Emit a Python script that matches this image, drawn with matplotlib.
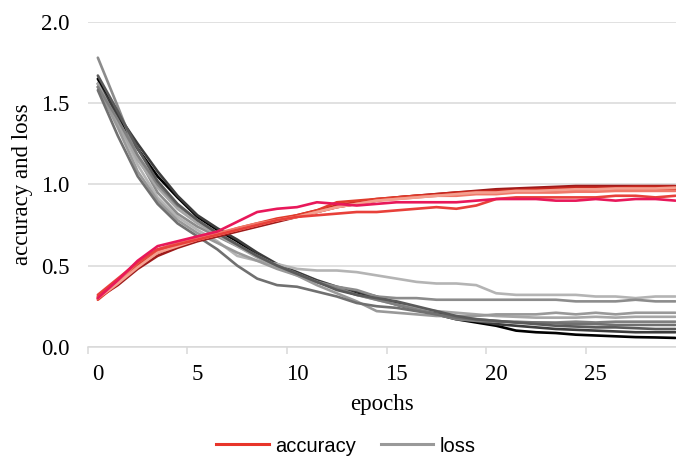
import matplotlib.pyplot as plt
import numpy as np
from matplotlib.lines import Line2D

epochs = np.arange(30)

# accuracy runs
acc_1 = [0.30, 0.38, 0.48, 0.56, 0.61, 0.65, 0.68, 0.71, 0.74, 0.77, 0.80, 0.83, 0.86, 0.88, 0.90,
         0.92, 0.93, 0.94, 0.95, 0.96, 0.97, 0.975, 0.98, 0.985, 0.99, 0.99, 0.99, 0.99, 0.99, 0.99]
acc_2 = [0.31, 0.40, 0.50, 0.58, 0.62, 0.66, 0.69, 0.72, 0.75, 0.78, 0.81, 0.84, 0.87, 0.89, 0.91,
         0.92, 0.93, 0.94, 0.95, 0.955, 0.96, 0.965, 0.97, 0.975, 0.98, 0.98, 0.98, 0.985, 0.985, 0.985]
acc_3 = [0.29, 0.39, 0.51, 0.59, 0.63, 0.66, 0.69, 0.73, 0.76, 0.79, 0.81, 0.84, 0.89, 0.90, 0.91,
         0.92, 0.93, 0.93, 0.94, 0.95, 0.95, 0.96, 0.96, 0.96, 0.965, 0.97, 0.97, 0.97, 0.97, 0.97]
acc_4 = [0.30, 0.40, 0.52, 0.60, 0.64, 0.67, 0.70, 0.73, 0.76, 0.78, 0.80, 0.83, 0.86, 0.88, 0.90,
         0.91, 0.92, 0.93, 0.93, 0.94, 0.94, 0.95, 0.95, 0.95, 0.955, 0.955, 0.96, 0.96, 0.96, 0.96]
acc_5 = [0.32, 0.42, 0.52, 0.60, 0.63, 0.66, 0.69, 0.72, 0.75, 0.78, 0.80, 0.81, 0.82, 0.83, 0.83,
         0.84, 0.85, 0.86, 0.85, 0.87, 0.91, 0.92, 0.92, 0.92, 0.92, 0.92, 0.93, 0.93, 0.92, 0.93]
acc_6 = [0.30, 0.41, 0.53, 0.62, 0.65, 0.68, 0.71, 0.77, 0.83, 0.85, 0.86, 0.89, 0.88, 0.87, 0.88,
         0.89, 0.89, 0.89, 0.89, 0.90, 0.91, 0.91, 0.91, 0.90, 0.90, 0.91, 0.90, 0.91, 0.91, 0.90]
acc_7 = [0.30, 0.39, 0.49, 0.58, 0.62, 0.66, 0.69, 0.72, 0.75, 0.78, 0.80, 0.83, 0.86, 0.88, 0.90,
         0.91, 0.92, 0.93, 0.94, 0.95, 0.95, 0.96, 0.96, 0.965, 0.97, 0.97, 0.975, 0.975, 0.975, 0.98]

# loss runs
loss_1 = [1.65, 1.42, 1.22, 1.05, 0.92, 0.80, 0.72, 0.65, 0.57, 0.50, 0.45, 0.40, 0.36, 0.33, 0.30,
          0.26, 0.23, 0.20, 0.17, 0.15, 0.13, 0.10, 0.09, 0.085, 0.075, 0.07, 0.065, 0.06, 0.058, 0.055]
loss_2 = [1.62, 1.43, 1.25, 1.08, 0.93, 0.81, 0.73, 0.66, 0.58, 0.51, 0.46, 0.41, 0.37, 0.34, 0.31,
          0.27, 0.24, 0.21, 0.18, 0.16, 0.14, 0.13, 0.12, 0.11, 0.105, 0.10, 0.095, 0.09, 0.09, 0.09]
loss_3 = [1.67, 1.45, 1.22, 1.02, 0.88, 0.78, 0.70, 0.63, 0.56, 0.50, 0.45, 0.40, 0.35, 0.32, 0.30,
          0.28, 0.25, 0.22, 0.19, 0.17, 0.16, 0.15, 0.14, 0.13, 0.125, 0.12, 0.12, 0.115, 0.11, 0.11]
loss_4 = [1.58, 1.30, 1.05, 0.88, 0.76, 0.68, 0.60, 0.50, 0.42, 0.38, 0.37, 0.34, 0.31, 0.27, 0.25,
          0.24, 0.22, 0.20, 0.18, 0.17, 0.16, 0.15, 0.15, 0.145, 0.14, 0.14, 0.135, 0.135, 0.135, 0.135]
loss_5 = [1.78, 1.48, 1.17, 0.95, 0.82, 0.74, 0.68, 0.62, 0.56, 0.50, 0.45, 0.40, 0.37, 0.35, 0.31,
          0.30, 0.30, 0.29, 0.29, 0.29, 0.29, 0.29, 0.29, 0.29, 0.28, 0.28, 0.28, 0.29, 0.28, 0.28]
loss_6 = [1.60, 1.38, 1.12, 0.92, 0.80, 0.72, 0.65, 0.56, 0.53, 0.51, 0.48, 0.47, 0.47, 0.46, 0.44,
          0.42, 0.40, 0.39, 0.39, 0.38, 0.33, 0.32, 0.32, 0.32, 0.32, 0.31, 0.31, 0.30, 0.31, 0.31]
loss_7 = [1.60, 1.35, 1.08, 0.90, 0.78, 0.70, 0.64, 0.58, 0.53, 0.48, 0.44, 0.38, 0.33, 0.28, 0.22,
          0.21, 0.20, 0.19, 0.19, 0.19, 0.20, 0.20, 0.20, 0.21, 0.20, 0.21, 0.20, 0.21, 0.21, 0.21]
loss_8 = [1.62, 1.38, 1.15, 0.98, 0.85, 0.76, 0.69, 0.62, 0.55, 0.49, 0.44, 0.40, 0.36, 0.32, 0.29,
          0.26, 0.24, 0.22, 0.21, 0.20, 0.19, 0.185, 0.18, 0.18, 0.18, 0.185, 0.18, 0.185, 0.185, 0.185]
loss_9 = [1.60, 1.40, 1.18, 1.00, 0.87, 0.78, 0.70, 0.63, 0.56, 0.50, 0.45, 0.40, 0.36, 0.32, 0.29,
          0.26, 0.23, 0.20, 0.17, 0.16, 0.155, 0.155, 0.15, 0.15, 0.155, 0.15, 0.155, 0.155, 0.155, 0.155]

acc_runs = [acc_1, acc_2, acc_3, acc_4, acc_7, acc_5, acc_6]
acc_colors = ['#9e1b1b', '#c8281e', '#e03c2c', '#f07868', '#f4a090', '#e8403a', '#e8185a']
loss_runs = [loss_1, loss_2, loss_6, loss_5, loss_8, loss_7, loss_9, loss_4, loss_3]
loss_colors = ['#000000', '#3c3c3c', '#b4b4b4', '#8c8c8c', '#a6a6a6', '#999999', '#808080', '#707070', '#5a5a5a']

fig = plt.figure(figsize=(6.76, 4.57), dpi=100)
ax = fig.add_axes([0.130, 0.241, 0.870, 0.711])

for run, c in zip(loss_runs, loss_colors):
    ax.plot(epochs, run, color=c, lw=1.9, solid_capstyle='round')
for run, c in zip(acc_runs, acc_colors):
    ax.plot(epochs, run, color=c, lw=1.9, solid_capstyle='round')

ax.set_xlim(-0.5, 29.03)
ax.set_ylim(0, 2.0)
ax.set_yticks([0, 0.5, 1.0, 1.5, 2.0])
ax.set_yticklabels(['0.0', '0.5', '1.0', '1.5', '2.0'])
ax.set_xticks([0, 5, 10, 15, 20, 25])
ax.set_xticks(np.arange(-0.5, 29.5, 5), minor=True)
ax.grid(axis='y', color='#d9d9d9', lw=1.1)
ax.set_axisbelow(True)
for s in ['top', 'right', 'left']:
    ax.spines[s].set_visible(False)
ax.spines['bottom'].set_color('#d9d9d9')
ax.spines['bottom'].set_linewidth(1.1)
ax.tick_params(axis='x', which='major', length=0, pad=12)
ax.tick_params(axis='x', which='minor', length=5, color='#d9d9d9', width=1.1)
ax.tick_params(axis='y', length=0, pad=13)

serif = ['Liberation Serif', 'DejaVu Serif']
for lab in ax.get_xticklabels() + ax.get_yticklabels():
    lab.set_fontfamily(serif)
    lab.set_fontsize(16.5)
ax.set_xlabel('epochs', family=serif, fontsize=16.5, labelpad=7)
ax.set_ylabel('accuracy and loss', family=serif, fontsize=16.5, labelpad=6)

handles = [Line2D([], [], color='#e8352a', lw=2.2), Line2D([], [], color='#999999', lw=2.2)]
fig.legend(handles, ['accuracy', 'loss'], loc='center', bbox_to_anchor=(0.512, 0.024),
           ncol=2, frameon=False, prop={'family': 'Liberation Sans', 'size': 14.5},
           handlelength=2.6, columnspacing=1.2, handletextpad=0.35)

fig.savefig('out.png', dpi=100)
